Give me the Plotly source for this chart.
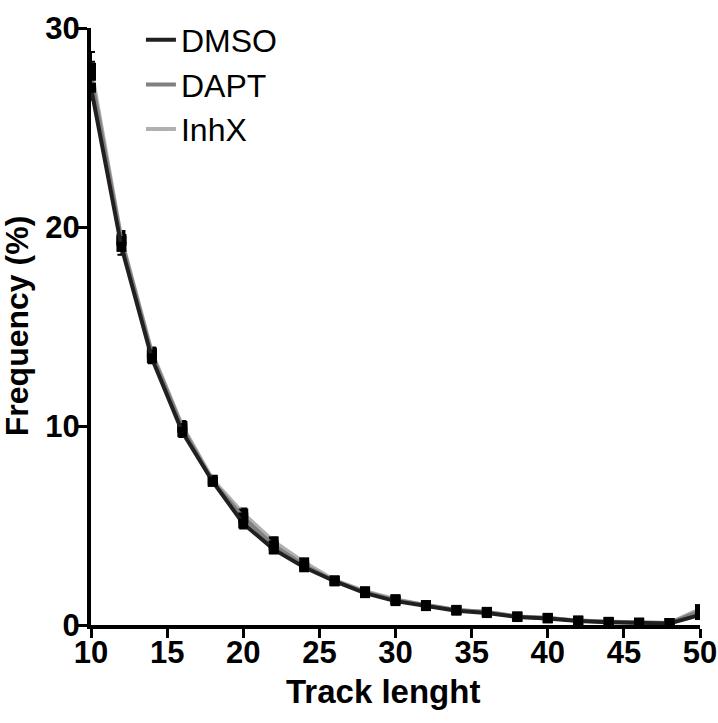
import plotly.graph_objects as go

track_len = [10, 12, 14, 16, 18, 20, 22, 24, 26, 28, 30, 32, 34, 36, 38, 40, 42, 44, 46, 48, 50]

dmso = [27.0, 19.0, 13.4, 9.7, 7.2, 5.1, 3.8, 2.9, 2.2, 1.6, 1.2, 0.95, 0.72, 0.6, 0.4, 0.33, 0.2, 0.14, 0.1, 0.08, 0.5]
dapt = [27.6, 19.3, 13.6, 9.9, 7.2, 5.4, 4.0, 3.0, 2.2, 1.65, 1.25, 1.0, 0.75, 0.65, 0.42, 0.35, 0.22, 0.15, 0.11, 0.1, 0.7]
inhx = [28.0, 19.4, 13.7, 10.0, 7.3, 5.6, 4.2, 3.15, 2.25, 1.7, 1.3, 1.0, 0.76, 0.66, 0.43, 0.36, 0.22, 0.16, 0.12, 0.1, 0.8]

dmso_err = [0.6, 0.4, 0.25, 0.25, 0.1, 0.25, 0.2, 0.12, 0.1, 0.1, 0.08, 0.06, 0.05, 0.05, 0.04, 0.03, 0.03, 0.02, 0.02, 0.02, 0.15]
dapt_err = [0.7, 0.4, 0.25, 0.25, 0.1, 0.25, 0.2, 0.12, 0.1, 0.1, 0.08, 0.06, 0.05, 0.05, 0.04, 0.03, 0.03, 0.02, 0.02, 0.02, 0.15]
inhx_err = [0.8, 0.4, 0.25, 0.25, 0.1, 0.25, 0.2, 0.12, 0.1, 0.1, 0.08, 0.06, 0.05, 0.05, 0.04, 0.03, 0.03, 0.02, 0.02, 0.02, 0.15]

series = [
    ("InhX", inhx, inhx_err, "#b0b0b0"),
    ("DAPT", dapt, dapt_err, "#808080"),
    ("DMSO", dmso, dmso_err, "#231f20"),
]

FONT = "Liberation Sans, Arial, sans-serif"

fig = go.Figure()

# 数据曲线（浅色在下，深色在上）
for name, vals, err, col in series:
    fig.add_trace(go.Scatter(
        x=track_len, y=vals, mode="lines+markers", name=name,
        line=dict(color=col, width=4),
        marker=dict(symbol="square", size=10, color="black"),
        error_y=dict(type="data", array=err, color="black", thickness=2, width=4),
        showlegend=False,
    ))

# 图例只显示线段
for name, _, _, col in series[::-1]:
    fig.add_trace(go.Scatter(
        x=[None], y=[None], mode="lines", name=name,
        line=dict(color=col, width=4),
    ))

fig.update_layout(
    width=718, height=723,
    margin=dict(l=91, r=18, t=15, b=98),
    plot_bgcolor="white", paper_bgcolor="white",
    font=dict(family=FONT, color="black"),
    legend=dict(
        x=0.082, y=1.026, xanchor="left", yanchor="top",
        font=dict(size=32, family=FONT),
        bgcolor="rgba(0,0,0,0)", itemwidth=30,
    ),
)

fig.update_xaxes(
    range=[10, 50], tickvals=[10, 15, 20, 25, 30, 35, 40, 45, 50],
    showline=True, linewidth=4, linecolor="black",
    ticks="outside", ticklen=9, tickwidth=3, tickcolor="black",
    showgrid=False, zeroline=False, automargin=False,
    ticklabeloverflow="allow", ticklabelstandoff=-12,
    tickfont=dict(size=31, family=FONT, weight="bold"),
)
fig.update_yaxes(
    range=[0, 30], tickvals=[0, 10, 20, 30],
    showline=True, linewidth=4, linecolor="black",
    ticks="outside", ticklen=9, tickwidth=3, tickcolor="black",
    showgrid=False, zeroline=False, automargin=False,
    ticklabeloverflow="allow", ticklabelstandoff=-8,
    tickfont=dict(size=31, family=FONT, weight="bold"),
)

# 坐标轴标题用注释放置
fig.add_annotation(text="<b>Track lenght</b>", xref="paper", yref="paper",
                   x=0.48, y=-0.1115, xanchor="center", yanchor="middle",
                   showarrow=False, font=dict(size=33, family=FONT))
fig.add_annotation(text="<b>Frequency (%)</b>", xref="paper", yref="paper",
                   x=-0.122, y=0.5, xanchor="center", yanchor="middle", textangle=-90,
                   showarrow=False, font=dict(size=32, family=FONT))

# 去掉body默认边距
fig.write_html("out.html", config={"displayModeBar": False},
               post_script="document.body.style.margin='0';")
